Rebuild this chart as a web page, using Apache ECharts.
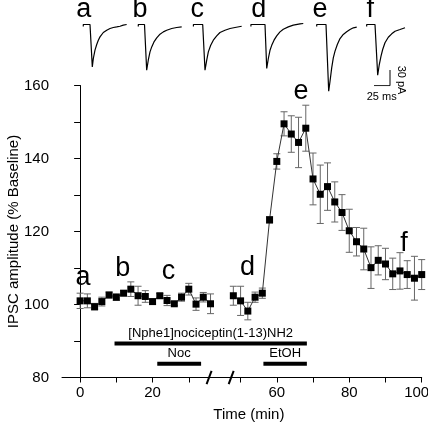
<!DOCTYPE html>
<html><head><meta charset="utf-8">
<script src="https://cdn.jsdelivr.net/npm/echarts@6/dist/echarts.min.js"></script>
<style>html,body{margin:0;padding:0;background:#fff;}#c{width:428px;height:424px;}</style>
</head><body><div id="c"></div>
<script>
// ---------------- DATA ----------------
const timesBefore = [0,2,4,6,8,10,12,14,16,18,20,22,24,26,28,30,32,34,36];
const meanBefore  = [101.0,101.0,99.4,100.8,102.6,102.0,103.1,104.2,102.4,102.2,100.8,102.4,101.1,100.2,102.0,104.2,100.1,102.0,100.2];
const semBefore   = [2.1,1.9,0.9,1.2,0.8,0.9,0.7,2.0,2.6,1.6,0.7,0.6,1.4,0.5,1.1,1.6,1.7,1.3,2.7];
const timesAfter = [48,50,52,54,56,58,60,62,64,66,68,70,72,74,76,78,80,82,84,86,88,90,92,94,96,98,100];
const meanAfter  = [102.4,101.0,98.2,102.0,103.1,123.2,139.2,149.5,146.7,144.4,148.3,134.4,130.2,132.3,128.1,125.2,120.2,117.2,115.2,110.1,112.1,111.1,108.4,109.2,108.2,107.2,108.2];
const semAfter   = [2.6,4.0,2.4,1.4,1.4,0.9,2.1,3.3,5.0,6.9,6.3,7.1,8.0,6.5,5.5,4.9,5.9,3.9,5.7,5.7,4.0,4.3,4.3,5.0,3.8,6.0,4.1];

const xTickLabels = [0,20,60,80,100];
const xTickMarks  = [0,10,20,30,50,60,70,80,90,100];
const yTickLabels = [80,100,120,140,160];

const drugNames = ['[Nphe1]nociceptin(1-13)NH2','Noc','EtOH'];
const drugStart = [9.5,21.3,56.3];
const drugEnd   = [68.3,33.4,68.3];

const letterNames  = ['a','b','c','d','e','f'];
const letterTimes  = [0.8,11.8,24.4,51.9,66.7,95.1];
const letterLevels = [107.3,109.8,109.1,110.2,158.3,116.6];

const traceA = [[-10.5,-4],[-10.5,0],[0,0],[3.6,-81],[5.2,-65],[7.8,-49.1],[10.5,-38.2],[13,-30],[15.6,-23.7],[20.8,-15.3],[26.1,-10.9],[31.3,-7.6],[36.4,-5.7],[41.7,-4.6],[46.9,-3.3],[52,-1.3],[57.3,0]];
const traceB = [[-9.7,-4],[-9.7,0],[0,0],[3.4,-87.4],[5.9,-68.3],[8.6,-52.4],[11.3,-42.8],[14.8,-33.3],[19.1,-25.6],[24.2,-18.5],[29.4,-14.1],[34.7,-10.9],[42.5,-7.6],[50.3,-5.7],[58.1,-4.6]];
const traceC = [[-14.5,-4],[-14.5,0],[0,0],[3.6,-87.4],[6.3,-68.3],[8.8,-52.4],[12.5,-39.6],[16.6,-30],[21.9,-21.8],[27,-15.3],[34.8,-10.9],[42.7,-7.6],[50.5,-5.7],[60.9,-3.3]];
const traceD = [[-22,-4],[-22,0],[0,0],[2.7,-84],[5.2,-65],[7.8,-49.3],[10.5,-39.9],[14.1,-30],[18.3,-21.8],[23.4,-14.1],[28.6,-9],[36.4,-4.6],[44.2,-1.3],[54.7,1.1],[59.8,1.9]];
const traceE = [[-14.5,-4],[-14.5,0],[0,0],[4.2,-127.5],[6.3,-108.5],[8.9,-83],[11.4,-63.7],[14.1,-51],[17.7,-38.2],[21.9,-26.8],[27,-19.1],[32.3,-14],[37.5,-9.6],[42.7,-6.3],[48,-5.1]];
const traceF = [[-13,-4],[-13,0],[0,0],[4.2,-97],[6.7,-76.5],[9.4,-60.6],[12,-47.8],[15.6,-35],[20.8,-24.3],[26.1,-17.8],[31.3,-12.8],[39.1,-9.6],[46.9,-6.3]];
const traceNames = ['a','b','c','d','e','f'];
const scaleBarMs = 25, scaleBarPA = 30;

// ---------------- LAYOUT ----------------
const FONT = '"Liberation Sans", Arial, sans-serif';
const SHIFT = 5.7;
const toDisp = t => t > 40 ? t - SHIFT : t;
const fromDisp = v => v > 40 ? Math.round(v + SHIFT) : Math.round(v);
const traces = [traceA,traceB,traceC,traceD,traceE,traceF];
const traceDropX = [90,144.5,202.7,265,326,375];
const PX_MS = 0.64, PX_PA = 0.523, T_MIN=-25, T_MAX=65, I_MIN=-135, I_MAX=5, BASE_Y=24.5;
const txt = (s,size,extra)=>Object.assign({text:s,fill:'#000',fontSize:size,fontFamily:FONT,align:'center',verticalAlign:'middle',textAlign:'center',textVerticalAlign:'middle'},extra||{});

const grids = [{left:62, top:85.5, width:359.7, height:292}];
const xAxes = [{
  gridIndex:0, type:'value', min:-5, max:100-SHIFT,
  axisLine:{show:true,onZero:false,lineStyle:{color:'#000',width:1}},
  axisTick:{show:true,customValues:xTickMarks.map(toDisp),length:5,lineStyle:{color:'#000'}},
  axisLabel:{show:true,customValues:xTickLabels.map(toDisp),
    formatter:v=>{const r=fromDisp(v);return r===100?'{r|100}':String(r);},
    rich:{r:{fontSize:15,color:'#000',fontFamily:FONT,padding:[0,10,0,0]}},
    fontSize:15,color:'#000',margin:8,fontFamily:FONT},
  splitLine:{show:false},
  name:'Time (min)',nameLocation:'middle',nameGap:30,nameMoveOverlap:false,
  nameTextStyle:{fontSize:15,color:'#000',fontFamily:FONT,padding:[0,0,0,14]}
}];
const yAxes = [{
  gridIndex:0, type:'value', min:80, max:160, interval:10,
  axisLine:{show:true,lineStyle:{color:'#000',width:1}},
  axisTick:{show:true,length:6,lineStyle:{color:'#000'}},
  axisLabel:{formatter:v=> yTickLabels.includes(v)? String(v):'',fontSize:15,color:'#000',margin:13,fontFamily:FONT},
  splitLine:{show:false},
  name:'IPSC amplitude (% Baseline)',nameLocation:'middle',nameGap:41,nameMoveOverlap:false,
  nameTextStyle:{fontSize:15,color:'#000',fontFamily:FONT}
}];
const series = [];

const errData = timesBefore.map((t,i)=>[toDisp(t),meanBefore[i],semBefore[i]])
  .concat(timesAfter.map((t,i)=>[toDisp(t),meanAfter[i],semAfter[i]]));
series.push({type:'custom',xAxisIndex:0,yAxisIndex:0,z:2,clip:false,data:errData,
  renderItem:(p,api)=>{
    const x=api.value(0),m=api.value(1),e=api.value(2);
    const a=api.coord([x,m+e]),b=api.coord([x,m-e]),hw=3.5;
    const st={stroke:'#666',lineWidth:1};
    return {type:'group',children:[
      {type:'line',shape:{x1:a[0],y1:a[1],x2:b[0],y2:b[1]},style:st},
      {type:'line',shape:{x1:a[0]-hw,y1:a[1],x2:a[0]+hw,y2:a[1]},style:st},
      {type:'line',shape:{x1:b[0]-hw,y1:b[1],x2:b[0]+hw,y2:b[1]},style:st}]};
  }});
[[timesBefore,meanBefore],[timesAfter,meanAfter]].forEach(([ts,ms])=>{
  series.push({type:'line',xAxisIndex:0,yAxisIndex:0,z:3,data:ts.map((t,i)=>[toDisp(t),ms[i]]),
    symbol:'rect',symbolSize:7,showSymbol:true,itemStyle:{color:'#000'},
    lineStyle:{color:'#333',width:1},animation:false});
});
const rowBar=[89.3,83.8,83.8];
series.push({type:'custom',xAxisIndex:0,yAxisIndex:0,z:4,clip:false,
  data:drugNames.map((n,i)=>[toDisp(drugStart[i]),toDisp(drugEnd[i]),i]),
  renderItem:(p,api)=>{
    const i=api.value(2);
    const a=api.coord([api.value(0),rowBar[i]]),b=api.coord([api.value(1),rowBar[i]]);
    return {type:'group',children:[
      {type:'rect',shape:{x:a[0],y:a[1]-2,width:b[0]-a[0],height:4},style:{fill:'#000'}},
      {type:'text',x:(a[0]+b[0])/2,y:a[1]-10.5,style:txt(drugNames[i],13)}]};
  }});
series.push({type:'custom',xAxisIndex:0,yAxisIndex:0,z:6,clip:false,data:[[35.6],[41.7]],
  renderItem:(p,api)=>{
    const c=api.coord([api.value(0),80]);
    return {type:'line',shape:{x1:c[0]-2.5,y1:c[1]+6.7,x2:c[0]+2.5,y2:c[1]-6.7},style:{stroke:'#000',lineWidth:2}};
  }});

traces.forEach((tr,k)=>{
  const gi=grids.length;
  grids.push({left:traceDropX[k]+T_MIN*PX_MS, top:BASE_Y-I_MAX*PX_PA, width:(T_MAX-T_MIN)*PX_MS, height:(I_MAX-I_MIN)*PX_PA});
  xAxes.push({gridIndex:gi,type:'value',min:T_MIN,max:T_MAX,show:false});
  yAxes.push({gridIndex:gi,type:'value',min:I_MIN,max:I_MAX,show:false});
  series.push({type:'line',xAxisIndex:gi,yAxisIndex:gi,data:tr,showSymbol:false,symbol:'none',
    lineStyle:{color:'#000',width:1.2},animation:false});
});
{
  const gi=grids.length;
  grids.push({left:374,top:70,width:scaleBarMs*PX_MS,height:scaleBarPA*PX_PA});
  xAxes.push({gridIndex:gi,type:'value',min:0,max:scaleBarMs,show:false});
  yAxes.push({gridIndex:gi,type:'value',min:0,max:scaleBarPA,show:false});
  series.push({type:'line',xAxisIndex:gi,yAxisIndex:gi,data:[[0,0],[scaleBarMs,0],[scaleBarMs,scaleBarPA]],
    showSymbol:false,symbol:'none',lineStyle:{color:'#000',width:1},animation:false});
}
const traceLetterX=[83.7,140,197.3,258.7,320,370.3];
const graphic = traceNames.map((n,i)=>({type:'text',x:traceLetterX[i],y:9.3,style:txt(n,27)}));
graphic.push({type:'text',x:381.7,y:96.5,style:txt(scaleBarMs+' ms',11)});
graphic.push({type:'text',x:401.5,y:80,rotation:-Math.PI/2,style:txt(scaleBarPA+' pA',11)});

grids.forEach(g=>{g.containLabel=false;g.outerBoundsMode='none';});
const chart = echarts.init(document.getElementById('c'),null,{renderer:'canvas'});
chart.setOption({animation:false,backgroundColor:'#fff',grid:grids,xAxis:xAxes,yAxis:yAxes,series:series,graphic:graphic,tooltip:{show:false}});
const letterGraphics = letterNames.map((n,i)=>{
  const p = chart.convertToPixel({gridIndex:0},[toDisp(letterTimes[i]),letterLevels[i]]);
  return {type:'text',x:p[0],y:p[1],style:txt(n,27)};
});
chart.setOption({graphic:graphic.concat(letterGraphics)});
</script></body></html>
